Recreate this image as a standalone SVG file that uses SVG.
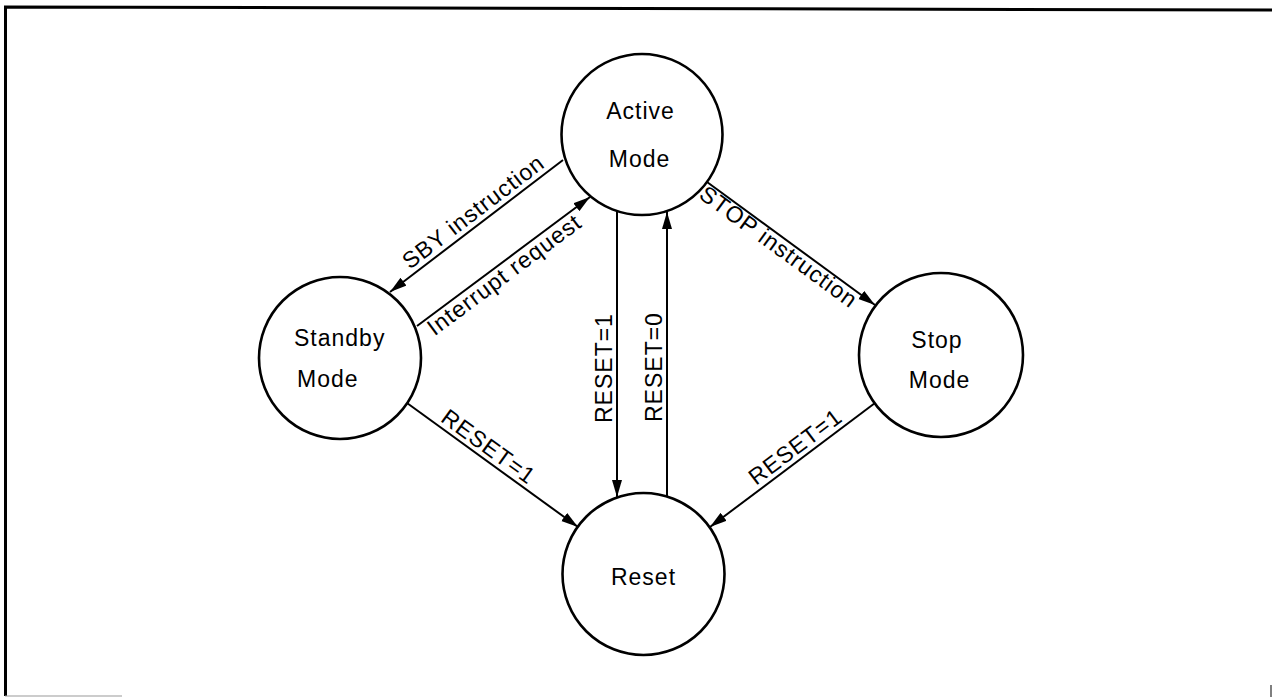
<svg xmlns="http://www.w3.org/2000/svg" width="1272" height="697" viewBox="0 0 1272 697">
<style>
  .node { fill: #fff; stroke: #000; stroke-width: 2.6; }
  .lbl { font-family: "Liberation Sans", Arial, Helvetica, sans-serif; font-size: 23px; letter-spacing: 1px; fill: #000; }
  .mid { text-anchor: middle; }
  .conn { stroke: #000; stroke-width: 2; fill: none; }
  .frame { stroke: #000; stroke-width: 3; fill: none; }
</style>
<defs>
  <marker id="arr" markerUnits="userSpaceOnUse" markerWidth="18" markerHeight="11" refX="17" refY="5.5" orient="auto">
    <path d="M0,0.5 L17,5.5 L0,10.5 Z" fill="#000"/>
  </marker>
</defs>
<rect x="0" y="0" width="1272" height="697" fill="#fff"/>
<g id="frame">
  <path class="frame" d="M5.5,696 L5.5,7 L1272,10"/>
  <line x1="5" y1="696" x2="122" y2="696" stroke="#999" stroke-width="1.2"/>
  <line x1="1271" y1="685" x2="1271" y2="697" stroke="#555" stroke-width="1.5"/>
</g>
<g id="connectors">
  <line class="conn" x1="563" y1="160" x2="390" y2="292" marker-end="url(#arr)"/>
  <line class="conn" x1="417" y1="326" x2="590" y2="197" marker-end="url(#arr)"/>
  <line class="conn" x1="707" y1="182" x2="875" y2="305" marker-end="url(#arr)"/>
  <line class="conn" x1="617" y1="211" x2="617" y2="497" marker-end="url(#arr)"/>
  <line class="conn" x1="667" y1="496" x2="667" y2="212" marker-end="url(#arr)"/>
  <line class="conn" x1="407" y1="403" x2="578" y2="527" marker-end="url(#arr)"/>
  <line class="conn" x1="875" y1="403" x2="710" y2="527" marker-end="url(#arr)"/>
  <text class="lbl mid" transform="translate(478,218) rotate(-37.3)">SBY instruction</text>
  <text class="lbl mid" transform="translate(509,281) rotate(-36.7)">Interrupt request</text>
  <text class="lbl mid" transform="translate(774,253) rotate(36.2)">STOP instruction</text>
  <text class="lbl" transform="translate(612,423) rotate(-90)">RESET=1</text>
  <text class="lbl" transform="translate(662,422) rotate(-90)">RESET=0</text>
  <text class="lbl mid" transform="translate(484,453) rotate(35.9)">RESET=1</text>
  <text class="lbl mid" transform="translate(800,453) rotate(-36.9)">RESET=1</text>
</g>
<g id="active">
  <circle class="node" cx="642" cy="134.5" r="80.5"/>
  <text class="lbl mid" x="640.5" y="119">Active</text>
  <text class="lbl mid" x="639.5" y="167">Mode</text>
</g>
<g id="standby">
  <circle class="node" cx="340" cy="358" r="81"/>
  <text class="lbl" x="294" y="346">Standby</text>
  <text class="lbl" x="297" y="387">Mode</text>
</g>
<g id="stop">
  <circle class="node" cx="941" cy="355" r="82"/>
  <text class="lbl mid" x="937" y="348">Stop</text>
  <text class="lbl mid" x="939.5" y="388">Mode</text>
</g>
<g id="reset">
  <circle class="node" cx="643.5" cy="574" r="81"/>
  <text class="lbl mid" x="643.5" y="585">Reset</text>
</g>
</svg>
